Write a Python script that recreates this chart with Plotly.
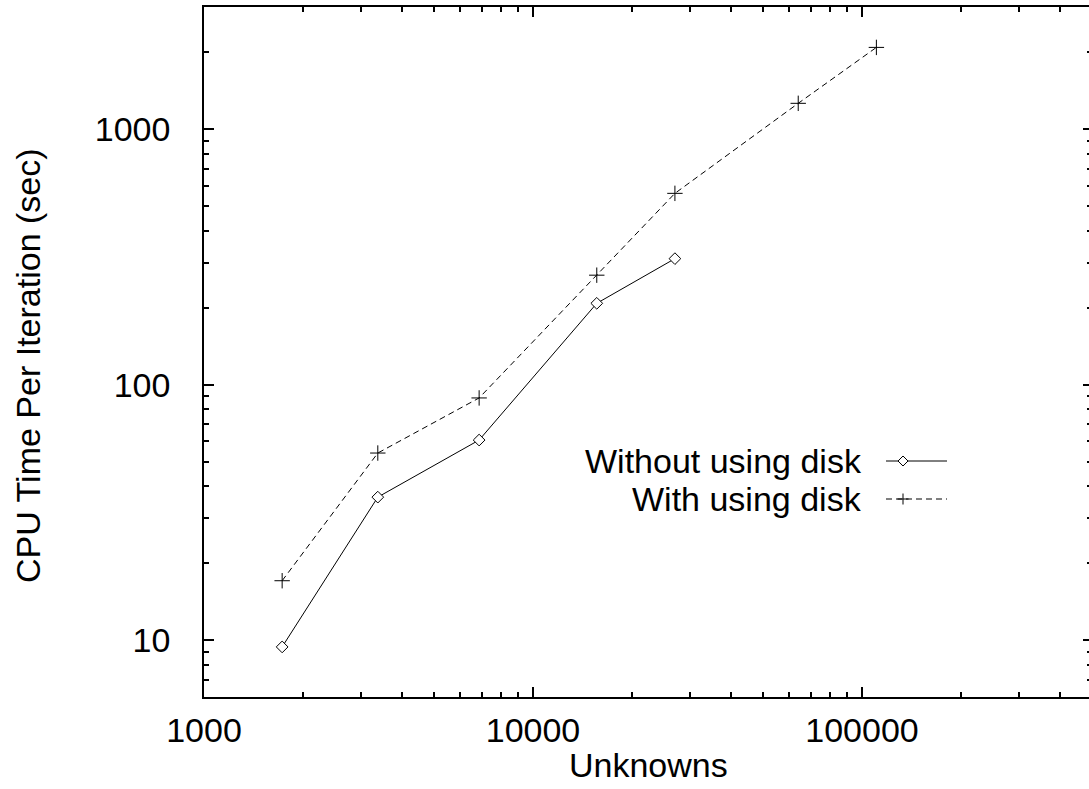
import plotly.graph_objects as go
import math

# ---- data ----
unknowns_nodisk = [1728, 3375, 6859, 15625, 27000]
time_nodisk = [9.42, 36.3, 60.7, 208, 311]
unknowns_disk = [1728, 3375, 6859, 15625, 27000, 64000, 110592]
time_disk = [17.1, 54, 88.7, 268, 560, 1260, 2085]

x_ticks = [1000, 10000, 100000]
x_ticktext = ["1000", "10000", "100000"]
x_minor = [2000, 3000, 4000, 5000, 6000, 7000, 8000, 9000,
           20000, 30000, 40000, 50000, 60000, 70000, 80000, 90000,
           200000, 300000, 400000]
y_ticks = [10, 100, 1000]
y_ticktext = ["10", "100", "1000"]
y_minor = [6, 7, 8, 9, 20, 30, 40, 50, 60, 70, 80, 90,
           200, 300, 400, 500, 600, 700, 800, 900, 2000, 3000]

FONT = "Liberation Sans, Arial, Helvetica, sans-serif"
FS = 34
W, H = 1089, 789
L, R, T, B = 204, 0, 7, 92
PW, PH = W - L - R, H - T - B

fig = go.Figure()
fig.add_trace(go.Scatter(
    x=unknowns_nodisk, y=time_nodisk, mode="lines+markers",
    name="Without using disk",
    line=dict(color="black", width=1),
    marker=dict(symbol="diamond", size=9, color="white",
                line=dict(color="black", width=1)),
    showlegend=False))
fig.add_trace(go.Scatter(
    x=unknowns_disk, y=time_disk, mode="lines+markers",
    name="With using disk",
    line=dict(color="black", width=1, dash="6px,4px"),
    marker=dict(symbol="cross-thin", size=11,
                line=dict(color="black", width=1)),
    showlegend=False))
# empty-looking trace so the right-hand tick axis is drawn
fig.add_trace(go.Scatter(x=unknowns_disk, y=time_disk, mode="none",
                         yaxis="y2", hoverinfo="skip", showlegend=False))

xr = [3, 3 + PW / 329.0]
yr = [math.log10(6), math.log10(3000)]

fig.update_layout(
    width=W, height=H,
    margin=dict(l=L, r=R, t=T, b=B, pad=0),
    paper_bgcolor="white", plot_bgcolor="white",
    font=dict(family=FONT, size=FS, color="black"),
    xaxis=dict(type="log", range=xr, tickmode="array",
               tickvals=x_ticks, ticktext=x_ticktext,
               ticks="inside", ticklen=10, tickwidth=1.5, tickcolor="black",
               showline=True, linecolor="black", linewidth=1.5,
               mirror="ticks", showgrid=False, zeroline=False,
               ticklabelstandoff=2,
               tickfont=dict(family=FONT, size=FS, color="black"),
               minor=dict(tickmode="array", tickvals=x_minor, ticks="inside",
                          ticklen=5, tickwidth=1.5, tickcolor="black",
                          showgrid=False)),
    yaxis=dict(type="log", range=yr, tickmode="array",
               tickvals=y_ticks, ticktext=y_ticktext,
               ticks="inside", ticklen=10, tickwidth=1.5, tickcolor="black",
               showline=True, linecolor="black", linewidth=1.5,
               showgrid=False, zeroline=False,
               ticklabelstandoff=25,
               tickfont=dict(family=FONT, size=FS, color="black"),
               minor=dict(tickmode="array", tickvals=y_minor, ticks="inside",
                          ticklen=5, tickwidth=1.5, tickcolor="black",
                          showgrid=False)),
    yaxis2=dict(type="log", range=yr, overlaying="y", side="right",
                anchor="x", tickmode="array", tickvals=y_ticks,
                showticklabels=False, ticks="inside", ticklen=6,
                tickwidth=1.5, tickcolor="black", showline=False,
                showgrid=False, zeroline=False,
                minor=dict(tickmode="array", tickvals=y_minor,
                           ticks="inside", ticklen=2, tickwidth=1.5,
                           tickcolor="black", showgrid=False)),
    showlegend=False,
)

def px_x(px):
    return (px - L) / PW

def px_y(py):
    return (H - B - py) / PH

annotations = [
    dict(text="Unknowns", x=px_x(648), y=px_y(765), xref="paper", yref="paper",
         xanchor="center", yanchor="middle", showarrow=False,
         font=dict(family=FONT, size=FS, color="black")),
    dict(text="CPU Time Per Iteration (sec)", x=px_x(28), y=px_y(366),
         xref="paper", yref="paper", xanchor="center", yanchor="middle",
         textangle=-90, showarrow=False,
         font=dict(family=FONT, size=FS, color="black")),
]

# manual legend (text to the left of the sample, gnuplot style)
legend_rows = [("Without using disk", 461, "solid", "diamond"),
               ("With using disk", 499, "6px,4px", "plus")]
MX = 903
shapes = []
for label, ry, dash, sym in legend_rows:
    annotations.append(dict(text=label, x=px_x(863), y=px_y(ry), xref="paper",
                            yref="paper", xanchor="right", yanchor="middle",
                            showarrow=False, borderpad=0,
                            font=dict(family=FONT, size=34, color="black")))
    shapes.append(dict(type="line", xref="paper", yref="paper",
                       xsizemode="pixel", ysizemode="pixel",
                       xanchor=px_x(MX), yanchor=px_y(ry),
                       x0=-17, x1=44, y0=0, y1=0,
                       line=dict(color="black", width=1, dash=dash)))
    if sym == "diamond":
        path = "M -5 0 L 0 5 L 5 0 L 0 -5 Z"
        fill = "white"
    else:
        path = "M -5.5 0 L 5.5 0 M 0 -5.5 L 0 5.5"
        fill = None
    sh = dict(type="path", xref="paper", yref="paper",
              xsizemode="pixel", ysizemode="pixel",
              xanchor=px_x(MX), yanchor=px_y(ry), path=path,
              line=dict(color="black", width=1))
    if fill:
        sh["fillcolor"] = fill
    shapes.append(sh)

fig.update_layout(annotations=annotations, shapes=shapes)
fig.write_html("out.html")
